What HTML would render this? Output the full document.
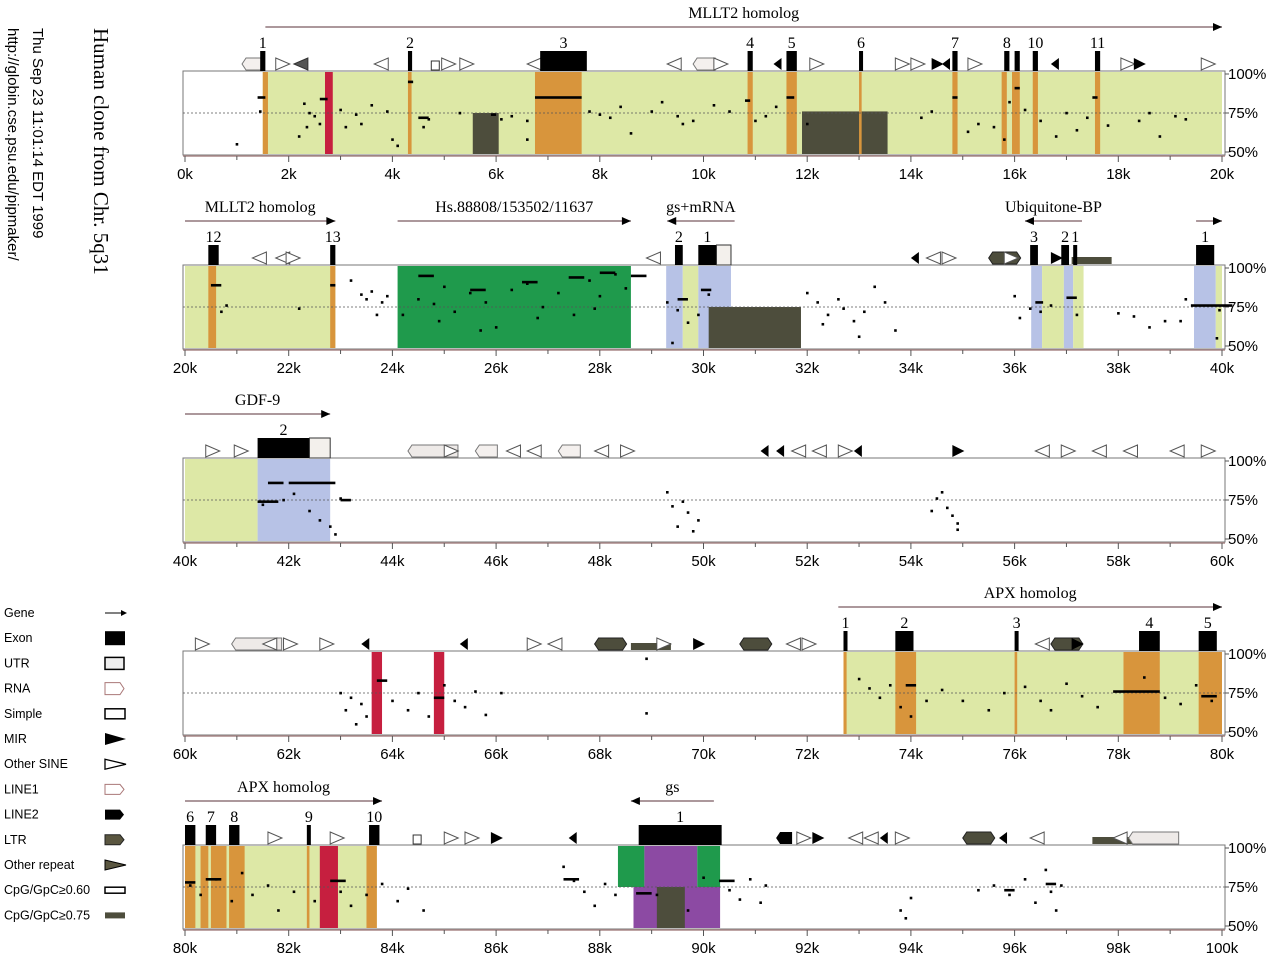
<!DOCTYPE html>
<html><head><meta charset="utf-8"><title>PipMaker - Human clone from Chr. 5q31</title>
<style>
html,body{margin:0;padding:0;background:#fff;width:1280px;height:959px;overflow:hidden}
svg{display:block}
.tk{font-family:"Liberation Sans",sans-serif;font-size:15px;fill:#000}
.sf{font-family:"Liberation Serif",serif;fill:#000}
.lg{font-family:"Liberation Sans",sans-serif;font-size:12.5px;fill:#000}
</style></head>
<body>
<svg id="chart" width="1280" height="959" viewBox="0 0 1280 959" xmlns="http://www.w3.org/2000/svg">
<g>
<text class="sf" font-size="21" transform="translate(94,28) rotate(90)">Human clone from Chr. 5q31</text>
<text class="tk" font-size="17.5" transform="translate(33,28) rotate(90)">Thu Sep 23 11:01:14 EDT 1999</text>
<text class="tk" font-size="17" transform="translate(8,28) rotate(90)">http://globin.cse.psu.edu/pipmaker/</text>
</g>
<g id="legend"></g>
<g id="panels"></g>
</svg>
<script>
// ---------- data ----------
const panelStarts = [0, 20, 40, 60, 80];            // kb start of each panel
const yTickLabels = ["100%", "75%", "50%"];
const yTickValues = [100, 75, 50];
const xTickStep = 2;                                 // kb between labelled ticks

// shaded regions: [panel, startKb, endKb, type, topPct, botPct]
const regions = [
 [0,1.5,20,'utr',100,50],[0,1.5,1.6,'exon',100,50],[0,2.7,2.85,'red',100,50],[0,4.3,4.37,'exon',100,50],
 [0,5.55,6.05,'dark',75,50],[0,6.75,7.65,'exon',100,50],[0,10.85,10.95,'exon',100,50],[0,11.6,11.8,'exon',100,50],
 [0,11.9,13.55,'dark',76,50],[0,13.0,13.05,'exon',100,50],[0,14.8,14.9,'exon',100,50],[0,15.75,15.85,'exon',100,50],
 [0,15.95,16.1,'exon',100,50],[0,16.35,16.45,'exon',100,50],[0,17.55,17.65,'exon',100,50],
 [1,20,22.9,'utr',100,50],[1,20.45,20.6,'exon',100,50],[1,22.8,22.9,'exon',100,50],[1,24.1,28.6,'green',100,50],
 [1,29.28,29.6,'blue',100,50],[1,29.6,29.9,'utr',100,50],[1,29.9,30.53,'blue',100,50],[1,30.1,31.88,'dark',75,50],
 [1,36.32,36.53,'blue',100,50],[1,36.53,36.95,'utr',100,50],[1,36.95,37.13,'blue',100,50],[1,37.13,37.33,'utr',100,50],
 [1,39.46,39.88,'blue',100,50],[1,39.88,40,'utr',100,50],
 [2,40,41.4,'utr',100,50],[2,41.4,42.8,'blue',100,50],
 [3,63.6,63.8,'red',100,50],[3,64.8,65.0,'red',100,50],[3,72.7,80,'utr',100,50],[3,72.7,72.76,'exon',100,50],
 [3,73.7,74.1,'exon',100,50],[3,76.0,76.05,'exon',100,50],[3,78.1,78.8,'exon',100,50],[3,79.55,80,'exon',100,50],
 [4,80,83.7,'utr',100,50],[4,80.0,80.2,'exon',100,50],[4,80.3,80.45,'exon',100,50],[4,80.5,80.8,'exon',100,50],
 [4,80.85,81.15,'exon',100,50],[4,82.35,82.4,'exon',100,50],[4,82.6,82.95,'red',100,50],[4,83.5,83.7,'exon',100,50],
 [4,88.35,88.86,'green',100,75],[4,88.86,89.88,'purple',100,75],[4,89.88,90.32,'green',100,75],
 [4,88.65,90.32,'purple',75,50],[4,89.1,89.64,'dark',75,50]
];

// conservation points: [panel, kb, pct]
const points = [
 [0,1.0,55],[0,1.45,76],[0,2.2,60],[0,2.3,81],[0,2.35,66],[0,2.4,75],[0,2.5,73],[0,2.6,68],[0,3.0,77],[0,3.1,66],[0,3.3,74],
 [0,3.4,68],[0,3.6,80],[0,3.9,76],[0,4.0,58],[0,4.1,54],[0,4.6,66],[0,4.7,71],[0,5.3,75],[0,6.1,71],[0,6.3,73],[0,6.6,70],
 [0,6.6,58],[0,7.8,76],[0,8.0,74],[0,8.2,72],[0,8.4,79],[0,8.6,62],[0,9.0,76],[0,9.2,82],[0,9.5,73],[0,9.6,68],[0,9.8,70],
 [0,10.2,80],[0,10.5,76],[0,11.0,70],[0,11.2,73],[0,11.4,79],[0,12.0,68],[0,14.2,72],[0,14.4,76],[0,15.1,63],[0,15.3,68],
 [0,15.6,66],[0,15.8,58],[0,15.9,82],[0,16.2,77],[0,16.5,70],[0,16.8,60],[0,17.0,75],[0,17.2,64],[0,17.4,72],[0,17.8,67],
 [0,18.4,70],[0,18.6,75],[0,18.8,60],[0,19.1,73],[0,19.3,71],
 [1,20.7,72],[1,20.8,76],[1,22.2,74],[1,23.2,92],[1,23.4,83],[1,23.5,80],[1,23.6,85],[1,23.7,70],[1,23.8,78],[1,23.9,82],
 [1,24.2,70],[1,24.5,80],[1,24.8,77],[1,24.9,66],[1,25.0,88],[1,25.2,72],[1,25.5,84],[1,25.7,60],[1,25.8,78],[1,26.0,62],
 [1,26.3,86],[1,26.6,90],[1,26.8,68],[1,26.9,75],[1,27.2,84],[1,27.5,70],[1,27.8,92],[1,27.9,74],[1,28.0,82],[1,28.3,96],
 [1,28.5,87],[1,29.3,78],[1,29.4,52],[1,29.5,73],[1,29.7,65],[1,29.9,70],[1,30.1,83],[1,32.0,84],[1,32.2,78],[1,32.3,64],
 [1,32.4,70],[1,32.6,80],[1,32.7,74],[1,32.9,66],[1,33.0,56],[1,33.1,72],[1,33.3,88],[1,33.5,78],[1,33.7,60],[1,36.0,82],
 [1,36.1,68],[1,36.3,74],[1,36.5,72],[1,36.7,76],[1,37.2,70],[1,38.0,71],[1,38.3,69],[1,38.6,62],[1,38.9,66],[1,39.2,66],
 [1,39.3,80],[1,39.95,73],[1,39.9,55],
 [2,41.5,72],[2,41.9,75],[2,42.1,79],[2,42.4,68],[2,42.6,62],[2,42.8,58],[2,42.9,53],[2,43.0,76],[2,49.3,80],[2,49.4,71],
 [2,49.5,58],[2,49.6,74],[2,49.7,67],[2,49.8,55],[2,49.9,62],[2,54.4,68],[2,54.5,76],[2,54.6,80],[2,54.7,70],[2,54.8,65],
 [2,54.9,60],[2,54.9,56],
 [3,63.0,75],[3,63.1,64],[3,63.2,72],[3,63.3,55],[3,63.4,68],[3,63.5,60],[3,64.0,70],[3,64.3,64],[3,64.5,75],[3,64.7,60],
 [3,65.0,80],[3,65.2,70],[3,65.4,66],[3,65.6,76],[3,65.8,61],[3,66.1,75],[3,68.9,97],[3,68.9,62],[3,73.0,84],[3,73.2,78],
 [3,73.4,72],[3,73.6,80],[3,73.8,66],[3,74.0,60],[3,74.3,70],[3,74.6,77],[3,75.0,70],[3,75.5,64],[3,75.8,75],[3,76.2,79],
 [3,76.5,70],[3,76.7,64],[3,77.0,81],[3,77.3,73],[3,77.6,66],[3,78.5,85],[3,78.9,72],[3,79.2,68],[3,79.5,80],[3,79.8,70],
 [4,80.1,76],[4,80.3,70],[4,80.6,80],[4,80.9,66],[4,81.1,84],[4,81.3,70],[4,81.6,76],[4,81.8,60],[4,82.1,72],[4,82.5,66],
 [4,83.0,72],[4,83.2,63],[4,83.5,70],[4,83.8,77],[4,84.1,66],[4,84.3,74],[4,84.6,60],[4,87.3,88],[4,87.5,79],[4,87.7,72],
 [4,87.9,63],[4,88.1,77],[4,88.3,70],[4,89.1,70],[4,89.7,60],[4,90.0,81],[4,90.5,73],[4,90.7,67],[4,90.9,80],[4,91.1,65],
 [4,91.2,76],[4,93.8,60],[4,93.9,55],[4,94.0,68],[4,95.3,73],[4,95.6,76],[4,95.9,70],[4,96.2,80],[4,96.4,65],[4,96.6,86],
 [4,96.7,72],[4,96.8,60],[4,96.9,76]
];

// conserved gap-free segments drawn as dashes: [panel, startKb, pct, lengthKb]
const dashes = [
 [0,1.4,85,0.15],[0,2.6,84,0.15],[0,4.3,95,0.1],[0,4.5,72,0.2],[0,6.75,85,0.9],[0,5.9,74,0.1],[0,10.8,83,0.1],
 [0,11.6,85,0.15],[0,14.8,85,0.1],[0,16.0,91,0.1],[0,17.5,85,0.1],
 [1,20.5,89,0.2],[1,22.8,89,0.1],[1,24.5,95,0.3],[1,25.5,86,0.3],[1,26.5,91,0.3],[1,27.4,94,0.3],[1,28.0,97,0.3],
 [1,28.6,95,0.3],[1,29.5,80,0.2],[1,29.95,86,0.2],[1,36.4,78,0.15],[1,37.0,81,0.2],[1,39.4,76,0.8],
 [2,41.6,86,0.3],[2,42.0,86,0.9],[2,41.4,74,0.4],[2,43.0,75,0.2],
 [3,63.7,83,0.2],[3,64.8,72,0.2],[3,77.9,76,0.9],[3,73.9,80,0.2],[3,79.6,73,0.3],
 [4,80.0,78,0.2],[4,80.4,80,0.3],[4,82.8,79,0.3],[4,88.7,71,0.3],[4,90.3,79,0.3],[4,87.3,80,0.3],[4,96.6,77,0.2],[4,95.8,73,0.2]
];

// exons: [panel, startKb, endKb, label, utrEndKb]
const exons = [
 [0,1.45,1.55,'1',0],[0,4.3,4.38,'2',0],[0,6.85,7.75,'3',0],[0,10.85,10.95,'4',0],[0,11.6,11.8,'5',0],
 [0,13.0,13.04,'6',0],[0,14.8,14.9,'7',0],[0,15.8,15.9,'8',0],[0,16.0,16.1,''],[0,16.35,16.45,'10',0],[0,17.55,17.65,'11',0],
 [1,20.45,20.65,'12',0],[1,22.8,22.9,'13',0],[1,29.45,29.6,'2',0],[1,29.9,30.25,'1',30.53],[1,36.3,36.45,'3',0],
 [1,36.9,37.05,'2',0],[1,37.13,37.16,'1',0],[1,39.5,39.85,'1',0],
 [2,41.4,42.4,'2',42.8],
 [3,72.7,72.74,'1',0],[3,73.7,74.05,'2',0],[3,76.0,76.03,'3',0],[3,78.4,78.8,'4',0],[3,79.55,79.9,'5',0],
 [4,80.0,80.2,'6',0],[4,80.4,80.6,'7',0],[4,80.85,81.05,'8',0],[4,82.35,82.4,'9',0],[4,83.55,83.75,'10',0],[4,88.75,90.35,'1',0]
];

// gene arrows: [panel, startKb, endKb, direction(+1 right/-1 left), name]
const genes = [
 [0,1.55,20,1,'MLLT2 homolog'],
 [1,20,22.9,1,'MLLT2 homolog'],[1,24.1,28.6,1,'Hs.88808/153502/11637'],[1,29.3,30.6,-1,'gs+mRNA'],
 [1,36.2,37.3,-1,'Ubiquitone-BP'],[1,39.5,40.0,1,''],
 [2,40,42.8,1,'GDF-9'],
 [3,72.6,80,1,'APX homolog'],
 [4,80,83.8,1,'APX homolog'],[4,88.6,90.2,-1,'gs']
];

// repeat icons: [panel, kb, type]
const repeats = [
 [0,1.1,'line1'],[0,1.75,'sineR'],[0,2.1,'otherL'],[0,3.65,'sineL'],[0,4.75,'simple'],[0,4.95,'sineR'],[0,5.3,'sineR'],
 [0,6.6,'sineL'],[0,9.3,'sineL'],[0,9.8,'line1'],[0,10.2,'sineR'],[0,11.35,'mirL'],[0,12.05,'sineR'],[0,13.7,'sineR'],
 [0,14.0,'sineR'],[0,14.4,'mirR'],[0,14.6,'mirL'],[0,15.1,'sineR'],[0,16.7,'mirL'],[0,18.05,'sineR'],[0,18.3,'mirR'],[0,19.6,'sineR'],
 [1,21.3,'sineL'],[1,21.75,'sineL'],[1,21.95,'sineR'],[1,28.9,'sineL'],[1,34.0,'mirL'],[1,34.3,'sineL'],[1,34.6,'sineR'],
 [1,35.5,'ltr'],[1,35.8,'sineR'],[1,36.7,'mirR'],[1,37.1,'ltrW'],
 [2,40.4,'sineR'],[2,40.95,'sineR'],[2,44.3,'line1W'],[2,45.0,'sineR'],[2,45.6,'line1'],[2,46.2,'sineL'],[2,46.6,'sineL'],
 [2,47.2,'line1'],[2,47.9,'sineL'],[2,48.4,'sineR'],[2,51.1,'mirL'],[2,51.4,'mirL'],[2,51.7,'sineL'],[2,52.1,'sineL'],
 [2,52.6,'sineR'],[2,52.9,'mirL'],[2,54.8,'mirR'],[2,56.4,'sineL'],[2,56.9,'sineR'],[2,57.5,'sineL'],[2,58.1,'sineL'],
 [2,59.0,'sineL'],[2,59.6,'sineR'],
 [3,60.2,'sineR'],[3,60.9,'line1W'],[3,61.5,'sineL'],[3,61.9,'sineR'],[3,62.6,'sineR'],[3,63.4,'mirL'],[3,65.3,'mirL'],
 [3,66.6,'sineR'],[3,67.0,'sineL'],[3,67.9,'ltr'],[3,68.6,'ltrW'],[3,69.1,'sineR'],[3,69.8,'mirR'],[3,70.7,'ltr'],
 [3,71.6,'sineL'],[3,71.9,'sineR'],[3,76.4,'sineL'],[3,76.7,'ltr'],[3,77.1,'mirR'],
 [4,81.6,'sineR'],[4,82.8,'sineR'],[4,84.4,'simple'],[4,85.0,'sineR'],[4,85.4,'sineR'],[4,85.9,'mirR'],[4,87.4,'mirL'],
 [4,91.4,'line2'],[4,91.8,'sineR'],[4,92.1,'mirR'],[4,92.8,'sineL'],[4,93.1,'sineL'],[4,93.4,'mirL'],[4,93.7,'sineR'],
 [4,95.0,'ltr'],[4,95.7,'mirL'],[4,96.3,'sineL'],[4,97.5,'ltrW'],[4,97.9,'sineL'],[4,98.2,'line1W']
];

// legend entries
const legendLabels = ["Gene","Exon","UTR","RNA","Simple","MIR","Other SINE","LINE1","LINE2","LTR","Other repeat","CpG/GpC\u22650.60","CpG/GpC\u22650.75"];
const legendTypes = ["gene","exon","utr","rna","simple","mirR","sineR","line1","line2","ltr","otherR","cpg60","cpg75"];

// ---------- layout ----------
const NS = "http://www.w3.org/2000/svg";
const panelTops = [71, 265, 458, 651, 845];
const X0 = 185, PXK = 51.85, BOXL = 183, BOXR = 1225, BOXH = 84;
const COLORS = {utr:'#dde8a6', exon:'#d8953c', red:'#c61f3f', dark:'#4d4d3c', green:'#1f9a4c', blue:'#b7c2e6', purple:'#8c4aa3'};
function xs(p, k){ return X0 + (k - panelStarts[p]) * PXK; }
function ys(p, pct){ return panelTops[p] + 3 + (100 - pct) / 50 * 78; }
function mk(tag, attrs, parent){ const e = document.createElementNS(NS, tag); for (const a in attrs) e.setAttribute(a, attrs[a]); parent.appendChild(e); return e; }

const root = document.getElementById('panels');
const panelGroups = [];
for (let p = 0; p < 5; p++) {
  const g = mk('g', {}, root);
  
  
  panelGroups.push(g);
  const t = panelTops[p];
  const box = mk('rect', {x: BOXL, y: t, width: BOXR - BOXL, height: BOXH, fill: '#fff', stroke: '#777', 'stroke-width': 1}, g);
  
  
}

// regions
regions.forEach(r => {
  const [p, a, b, type, top, bot] = r;
  const yt = top >= 100 ? panelTops[p] + 1 : ys(p, top);
  const yb = bot <= 50 ? panelTops[p] + BOXH - 1 : ys(p, bot);
  const el = mk('rect', {x: xs(p, a), y: yt, width: Math.max(1.5, xs(p, b) - xs(p, a)), height: yb - yt, fill: COLORS[type]}, panelGroups[p]);
  
  
});

// axes, dashed 75 line, tick labels
for (let p = 0; p < 5; p++) {
  const g = panelGroups[p], t = panelTops[p];
  const mid = mk('line', {x1: BOXL, x2: BOXR, y1: ys(p, 75), y2: ys(p, 75), stroke: '#555', 'stroke-dasharray': '2,2', 'stroke-width': 0.8}, g);
  
  
  const ax = mk('line', {x1: BOXL, x2: BOXR, y1: t + BOXH + 1, y2: t + BOXH + 1, stroke: '#a88', 'stroke-width': 1.5}, g);
  
  
  for (let k = 0; k <= 20; k++) {
    const kk = panelStarts[p] + k;
    mk('line', {x1: xs(p, kk), x2: xs(p, kk), y1: t + BOXH + 1, y2: t + BOXH + (k % 2 ? 5 : 7), stroke: '#555', 'stroke-width': 1}, g);
    if (k % xTickStep === 0) {
      const tx = mk('text', {x: xs(p, kk), y: t + BOXH + 24, 'text-anchor': 'middle', class: 'tk'}, g);
      tx.textContent = kk + 'k';
      
      
    }
  }
  yTickValues.forEach((v, i) => {
    mk('line', {x1: BOXR, x2: BOXR + 4, y1: ys(p, v), y2: ys(p, v), stroke: '#555'}, g);
    const tx = mk('text', {x: BOXR + 3, y: ys(p, v) + 5, class: 'tk'}, g);
    tx.textContent = yTickLabels[i];
    
    
  });
}

// points & dashes
points.forEach(d => {
  const [p, k, v] = d;
  const el = mk('rect', {x: xs(p, k) - 1.2, y: ys(p, v) - 1.2, width: 2.6, height: 2.6, fill: '#000'}, panelGroups[p]);
  
  
});
dashes.forEach(d => {
  const [p, k, v, len] = d;
  const el = mk('rect', {x: xs(p, k), y: ys(p, v) - 1.2, width: Math.max(4, len * PXK), height: 2.6, fill: '#000'}, panelGroups[p]);
  
  
});

// icon drawing
function icon(g, type, x, yb) {
  const y0 = yb - 12, y1 = yb, ym = yb - 6;
  let e;
  switch (type) {
    case 'sineR': e = mk('polygon', {points: `${x},${y0} ${x+14},${ym} ${x},${y1}`, fill: '#fff', stroke: '#555'}, g); break;
    case 'sineL': e = mk('polygon', {points: `${x+14},${y0} ${x},${ym} ${x+14},${y1}`, fill: '#fff', stroke: '#555'}, g); break;
    case 'mirR': e = mk('polygon', {points: `${x},${y0} ${x+12},${ym} ${x},${y1}`, fill: '#000'}, g); break;
    case 'mirL': e = mk('polygon', {points: `${x+8},${y0} ${x},${ym} ${x+8},${y1}`, fill: '#000'}, g); break;
    case 'otherL': e = mk('polygon', {points: `${x+14},${y0} ${x},${ym} ${x+14},${y1}`, fill: '#555', stroke: '#333'}, g); break;
    case 'otherR': e = mk('polygon', {points: `${x},${y0+2} ${x+20},${ym} ${x},${y1-2}`, fill: '#5a5640', stroke: '#222'}, g); break;
    case 'simple': e = mk('rect', {x: x, y: y0 + 3, width: 8, height: 9, fill: '#fff', stroke: '#333'}, g); break;
    case 'line1': e = mk('polygon', {points: `${x+4},${y0} ${x+22},${y0} ${x+22},${y1} ${x+4},${y1} ${x},${ym}`, fill: '#f4f0ee', stroke: '#777'}, g); break;
    case 'line1W': e = mk('polygon', {points: `${x+4},${y0} ${x+50},${y0} ${x+50},${y1} ${x+4},${y1} ${x},${ym}`, fill: '#eeeae8', stroke: '#777'}, g); break;
    case 'line2': e = mk('polygon', {points: `${x+4},${y0} ${x+16},${y0} ${x+16},${y1} ${x+4},${y1} ${x},${ym}`, fill: '#000'}, g); break;
    case 'ltr': e = mk('polygon', {points: `${x+4},${y0} ${x+28},${y0} ${x+32},${ym} ${x+28},${y1} ${x+4},${y1} ${x},${ym}`, fill: '#4d4d3c', stroke: '#222'}, g); break;
    case 'ltrW': e = mk('rect', {x: x, y: y0 + 5, width: 40, height: 7, fill: '#4d4d3c'}, g); break;
  }
  return e;
}

repeats.forEach(r => {
  const [p, k, type] = r;
  const e = icon(panelGroups[p], type, xs(p, k), panelTops[p] - 1);
  
  
});

// exons
exons.forEach(ex => {
  const [p, a, b, lab, utrEnd] = ex;
  const g = panelGroups[p], t = panelTops[p];
  const w = Math.max(4, xs(p, b) - xs(p, a));
  const e = mk('rect', {x: xs(p, a), y: t - 20, width: w, height: 20, fill: '#000'}, g);
  
  
  if (utrEnd) {
    const u = mk('rect', {x: xs(p, b), y: t - 20, width: xs(p, utrEnd) - xs(p, b), height: 20, fill: '#f3f0ec', stroke: '#333'}, g);
    
    
  }
  if (lab) {
    const tx = mk('text', {x: xs(p, a) + w / 2, y: t - 23, 'text-anchor': 'middle', class: 'sf', 'font-size': 16}, g);
    tx.textContent = lab;
    
    
  }
});

// genes
genes.forEach(gn => {
  const [p, a, b, dir, name] = gn;
  const g = panelGroups[p], y = panelTops[p] - 44;
  const x1 = xs(p, a), x2 = xs(p, b);
  const ln = mk('line', {x1: x1, x2: x2, y1: y, y2: y, stroke: '#7a5a60', 'stroke-width': 1.2}, g);
  
  
  const hx = dir > 0 ? x2 : x1;
  mk('polygon', {points: dir > 0 ? `${hx},${y} ${hx-9},${y-4} ${hx-9},${y+4}` : `${hx},${y} ${hx+9},${y-4} ${hx+9},${y+4}`, fill: '#000'}, g);
  if (name) {
    const tx = mk('text', {x: (x1 + x2) / 2, y: y - 9, 'text-anchor': 'middle', class: 'sf', 'font-size': 16}, g);
    tx.textContent = name;
    
    
  }
});

// legend
const lg = document.getElementById('legend');
legendLabels.forEach((lab, i) => {
  const y = 613 + i * 25.2;
  const gi = mk('g', {}, lg);
  
  
  const tx = mk('text', {x: 4, y: y + 4, class: 'lg'}, gi);
  tx.textContent = lab;
  const t = legendTypes[i], x = 105;
  if (t === 'gene') { mk('line', {x1: x, x2: x + 18, y1: y, y2: y, stroke: '#000'}, gi); mk('polygon', {points: `${x+22},${y} ${x+16},${y-3} ${x+16},${y+3}`, fill: '#000'}, gi); }
  else if (t === 'exon') mk('rect', {x: x, y: y - 7, width: 20, height: 14, fill: '#000'}, gi);
  else if (t === 'utr') mk('rect', {x: x, y: y - 6, width: 19, height: 12, fill: '#eee', stroke: '#000', 'stroke-width': 1.5}, gi);
  else if (t === 'rna') mk('polygon', {points: `${x},${y-6} ${x+15},${y-6} ${x+19},${y} ${x+15},${y+6} ${x},${y+6}`, fill: '#fff', stroke: '#a77'}, gi);
  else if (t === 'simple') mk('rect', {x: x, y: y - 5, width: 20, height: 10, fill: '#fff', stroke: '#000', 'stroke-width': 1.5}, gi);
  else if (t === 'mirR') mk('polygon', {points: `${x},${y-6} ${x+21},${y} ${x},${y+6}`, fill: '#000'}, gi);
  else if (t === 'sineR') mk('polygon', {points: `${x},${y-5} ${x+21},${y} ${x},${y+5}`, fill: '#fff', stroke: '#000', 'stroke-width': 1.3}, gi);
  else if (t === 'line1') mk('polygon', {points: `${x},${y-5} ${x+15},${y-5} ${x+19},${y} ${x+15},${y+5} ${x},${y+5}`, fill: '#fff', stroke: '#a77'}, gi);
  else if (t === 'line2') mk('polygon', {points: `${x},${y-5} ${x+15},${y-5} ${x+19},${y} ${x+15},${y+5} ${x},${y+5}`, fill: '#000'}, gi);
  else if (t === 'ltr') mk('polygon', {points: `${x},${y-5} ${x+15},${y-5} ${x+19},${y} ${x+15},${y+5} ${x},${y+5}`, fill: '#5a5640', stroke: '#222'}, gi);
  else if (t === 'otherR') mk('polygon', {points: `${x},${y-5} ${x+21},${y} ${x},${y+5}`, fill: '#5a5640', stroke: '#000'}, gi);
  else if (t === 'cpg60') mk('rect', {x: x, y: y - 3, width: 20, height: 6, fill: '#fff', stroke: '#000', 'stroke-width': 1.5}, gi);
  else if (t === 'cpg75') mk('rect', {x: x, y: y - 3, width: 20, height: 6, fill: '#4d4d3c'}, gi);
});
</script>
</body></html>
